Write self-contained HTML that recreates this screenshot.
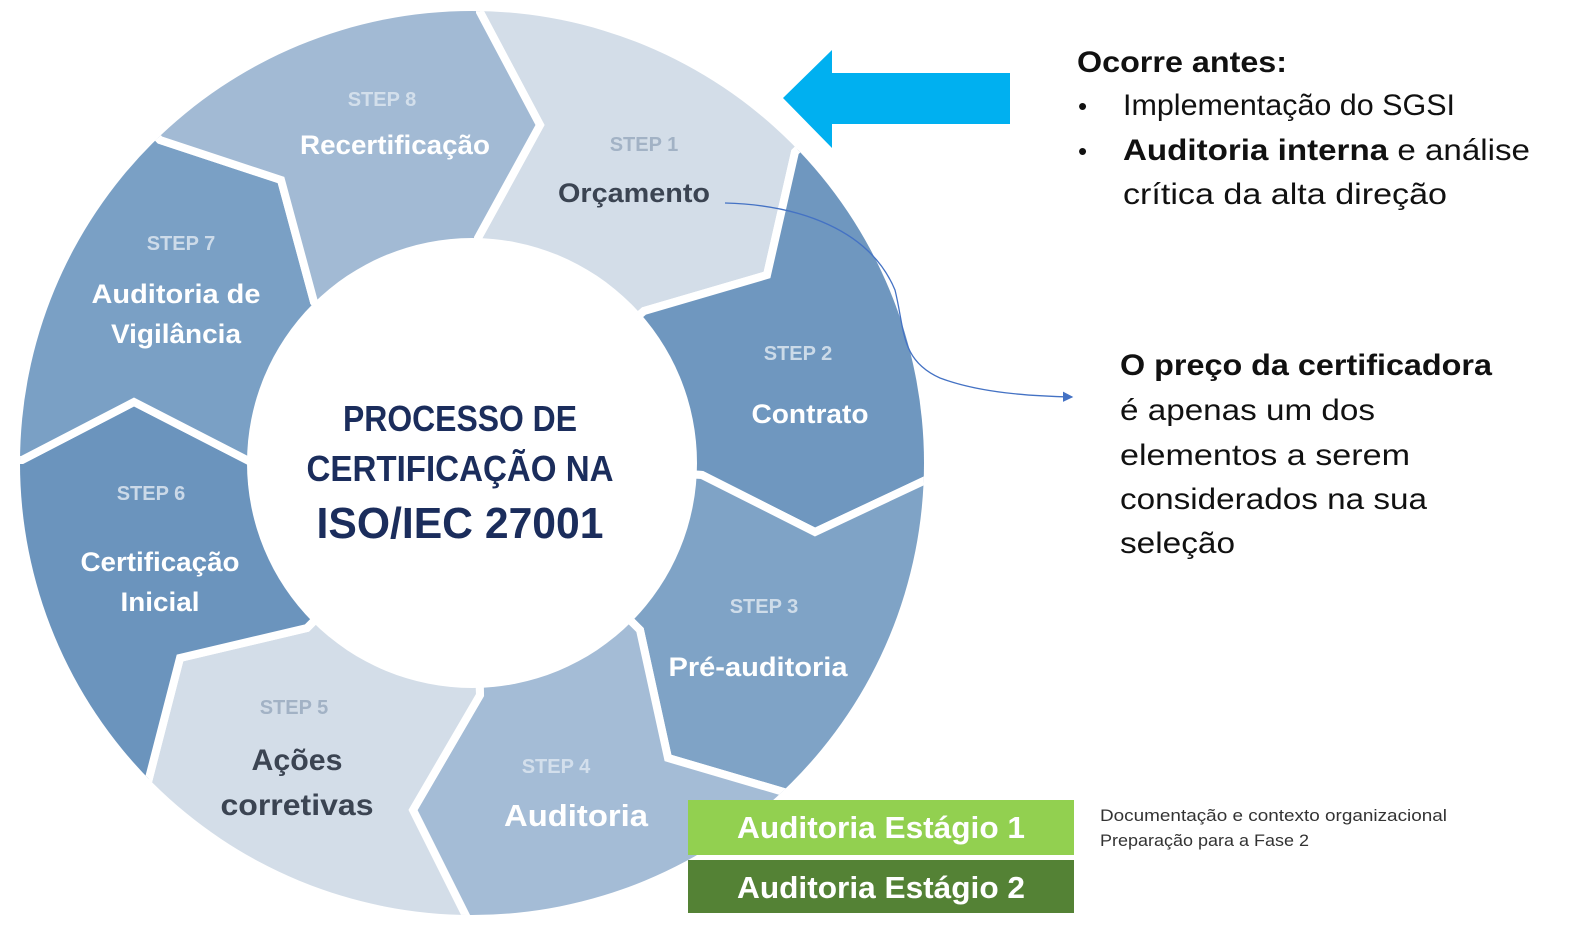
<!DOCTYPE html>
<html><head><meta charset="utf-8"><style>
html,body{margin:0;padding:0;background:#fff;width:1583px;height:934px;overflow:hidden;}
svg{display:block;}
text{font-family:"Liberation Sans",sans-serif;}
</style></head><body>
<svg width="1583" height="934" viewBox="0 0 1583 934" xmlns="http://www.w3.org/2000/svg">
<defs>
<clipPath id="ring"><circle cx="472" cy="463" r="452"/></clipPath>
<marker id="ah" markerWidth="8" markerHeight="8" refX="7" refY="4" orient="auto"><path d="M0,0 L8,4 L0,8 z" fill="#4472c4"/></marker>
</defs>
<g clip-path="url(#ring)" stroke="#fff" stroke-width="8" stroke-linejoin="miter">
<polygon fill="#d3dde8" points="472,463 478,238 540,125 480,12 483,-168 838,-359 924,27 795,152 767,275 644,311"/>
<polygon fill="#6f97bf" points="472,463 644,311 767,275 795,152 924,27 1312,140 1113,484 930,478 815,532 702,475"/>
<polygon fill="#7fa3c6" points="472,463 702,475 815,532 930,478 1113,484 1300,815 923,928 794,795 668,758 640,630"/>
<polygon fill="#a4bcd6" points="472,463 640,630 668,758 794,795 923,928 824,1291 464,1097 466,916 413,810 480,695"/>
<polygon fill="#d3dde8" points="472,463 480,695 413,810 466,916 464,1097 135,1297 18,910 148,782 180,658 307,628"/>
<polygon fill="#6b94bd" points="472,463 307,628 180,658 148,782 18,910 -356,815 -158,460 22,460 134,402 249,461"/>
<polygon fill="#7aa0c5" points="472,463 249,461 134,402 22,460 -158,459 -356,111 35,11 160,140 281,180 314,302"/>
<polygon fill="#a2bad4" points="472,463 314,302 281,180 160,140 35,11 135,-371 483,-168 480,12 540,125 478,238"/>
</g>
<circle cx="472" cy="463" r="225" fill="#fff"/>

<g font-weight="bold" text-anchor="middle">
<g font-size="20" fill="#dce6f0" opacity="0.85">
<text x="382" y="106">STEP 8</text>
<text x="644" y="151" fill="#9aabbf">STEP 1</text>
<text x="798" y="360">STEP 2</text>
<text x="764" y="613">STEP 3</text>
<text x="556" y="773">STEP 4</text>
<text x="294" y="714" fill="#9aabbf">STEP 5</text>
<text x="151" y="500">STEP 6</text>
<text x="181" y="250">STEP 7</text>
</g>
<g font-size="27" fill="#fff">
<text x="395" y="154" textLength="190" lengthAdjust="spacingAndGlyphs">Recertificação</text>
<text x="634" y="202" fill="#3b4452" textLength="152" lengthAdjust="spacingAndGlyphs">Orçamento</text>
<text x="810" y="423" textLength="117" lengthAdjust="spacingAndGlyphs">Contrato</text>
<text x="758" y="676" textLength="179" lengthAdjust="spacingAndGlyphs">Pré-auditoria</text>
<text x="576" y="826" font-size="31" textLength="144" lengthAdjust="spacingAndGlyphs">Auditoria</text>
<text x="297" y="770" font-size="30" fill="#3b4452" textLength="91" lengthAdjust="spacingAndGlyphs">Ações</text>
<text x="297" y="815" font-size="30" fill="#3b4452" textLength="153" lengthAdjust="spacingAndGlyphs">corretivas</text>
<text x="160" y="571" textLength="159" lengthAdjust="spacingAndGlyphs">Certificação</text>
<text x="160" y="611" textLength="79" lengthAdjust="spacingAndGlyphs">Inicial</text>
<text x="176" y="303" textLength="169" lengthAdjust="spacingAndGlyphs">Auditoria de</text>
<text x="176" y="343" textLength="130" lengthAdjust="spacingAndGlyphs">Vigilância</text>
</g>
<g fill="#1b2d5c">
<text x="460" y="431" font-size="36" textLength="234" lengthAdjust="spacingAndGlyphs">PROCESSO DE</text>
<text x="460" y="481" font-size="36" textLength="307" lengthAdjust="spacingAndGlyphs">CERTIFICAÇÃO NA</text>
<text x="460" y="538" font-size="44" textLength="287" lengthAdjust="spacingAndGlyphs">ISO/IEC 27001</text>
</g>
</g>

<polygon fill="#00b0f0" points="783,98 832,50 832,73 1010,73 1010,124 832,124 832,148"/>

<path d="M725,203 C800,205 870,230 895,290 C905,330 900,360 940,378 C980,393 1030,396 1072,397" fill="none" stroke="#4472c4" stroke-width="1.3" marker-end="url(#ah)"/>

<g font-size="30" fill="#111">
<text x="1077" y="72" font-weight="bold" textLength="210" lengthAdjust="spacingAndGlyphs">Ocorre antes:</text>
<text x="1078" y="115" font-size="26">•</text>
<text x="1123" y="115" textLength="332" lengthAdjust="spacingAndGlyphs">Implementação do SGSI</text>
<text x="1078" y="160" font-size="26">•</text>
<text x="1123" y="160" textLength="407" lengthAdjust="spacingAndGlyphs"><tspan font-weight="bold">Auditoria interna</tspan> e análise</text>
<text x="1123" y="204" textLength="324" lengthAdjust="spacingAndGlyphs">crítica da alta direção</text>
<text x="1120" y="375" font-weight="bold" textLength="372" lengthAdjust="spacingAndGlyphs">O preço da certificadora</text>
<text x="1120" y="420" textLength="255" lengthAdjust="spacingAndGlyphs">é apenas um dos</text>
<text x="1120" y="465" textLength="290" lengthAdjust="spacingAndGlyphs">elementos a serem</text>
<text x="1120" y="509" textLength="307" lengthAdjust="spacingAndGlyphs">considerados na sua</text>
<text x="1120" y="553" textLength="115" lengthAdjust="spacingAndGlyphs">seleção</text>
</g>

<rect x="688" y="800" width="386" height="55" fill="#92d050"/>
<rect x="688" y="860" width="386" height="53" fill="#548235"/>
<g font-size="31" font-weight="bold" fill="#fff">
<text x="737" y="838" textLength="288" lengthAdjust="spacingAndGlyphs">Auditoria Estágio 1</text>
<text x="737" y="898" textLength="288" lengthAdjust="spacingAndGlyphs">Auditoria Estágio 2</text>
</g>
<g font-size="17" fill="#333">
<text x="1100" y="821" textLength="347" lengthAdjust="spacingAndGlyphs">Documentação e contexto organizacional</text>
<text x="1100" y="846" textLength="209" lengthAdjust="spacingAndGlyphs">Preparação para a Fase 2</text>
</g>
</svg>
</body></html>
